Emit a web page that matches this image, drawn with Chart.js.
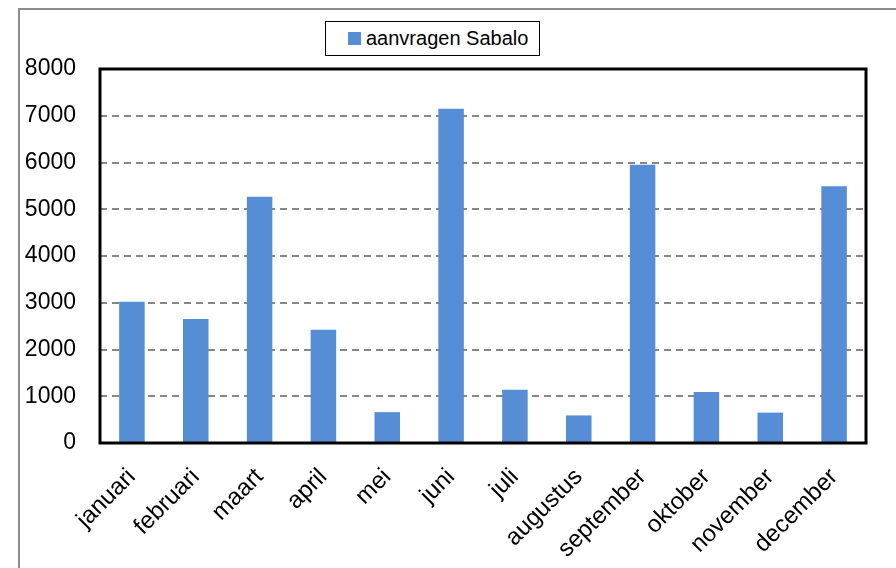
<!DOCTYPE html>
<html>
<head>
<meta charset="utf-8">
<script src="https://cdn.jsdelivr.net/npm/chart.js@4"></script>
<style>
  html, body { margin: 0; padding: 0; background: #fff; }
  #wrap { position: relative; width: 896px; height: 568px; overflow: hidden; }
  #frame { position: absolute; left: 18px; top: 8px; width: 900px; height: 600px;
           border-left: 2px solid #8c8c8c; border-top: 2px solid #8c8c8c; box-sizing: border-box; }
  #legend { position: absolute; left: 325px; top: 21px; width: 215px; height: 35px; box-sizing: border-box;
            border: 1.5px solid #000; background: #fff; font: 20px "Liberation Sans", sans-serif;
            display: flex; align-items: center; padding-left: 22px; color: #000; }
  #legend span.box { display: inline-block; width: 13px; height: 13px; margin-right: 5px; }
  canvas { position: absolute; left: 0; top: 0; }
</style>
</head>
<body>
<div id="wrap">
  <div id="frame"></div>
  <canvas id="chart" width="896" height="568"></canvas>
  <div id="legend"></div>
</div>
<script>
// --- datos ---
const maanden = ['januari', 'februari', 'maart', 'april', 'mei', 'juni',
                 'juli', 'augustus', 'september', 'oktober', 'november', 'december'];
const aanvragen = [3020, 2650, 5270, 2420, 660, 7150, 1140, 590, 5950, 1090, 650, 5490];
const serieNaam = 'aanvragen Sabalo';
const yTicks = [0, 1000, 2000, 3000, 4000, 5000, 6000, 7000, 8000];

const barColor = '#558ed5';

// caja negra alrededor del area del grafico
const plotBox = {
    id: 'plotBox',
    afterDraw(chart) {
        const { ctx, chartArea: a } = chart;
        ctx.save();
        ctx.strokeStyle = '#000';
        ctx.lineWidth = 3;
        ctx.strokeRect(a.left, a.top, a.right - a.left, a.bottom - a.top);
        ctx.restore();
    }
};

const ctx = document.getElementById('chart').getContext('2d');
const chart = new Chart(ctx, {
    type: 'bar',
    data: {
        labels: maanden,
        datasets: [{
            label: serieNaam,
            data: aanvragen,
            backgroundColor: barColor,
            borderWidth: 0,
            barPercentage: 0.4,
            categoryPercentage: 1.0
        }]
    },
    options: {
        responsive: false,
        animation: false,
        layout: { padding: { left: 0, right: 30, top: 69, bottom: 0 } },
        plugins: { legend: { display: false }, tooltip: { enabled: false } },
        scales: {
            x: {
                grid: { display: false, drawTicks: false },
                border: { display: false },
                ticks: {
                    color: '#000',
                    font: { family: 'Liberation Sans', size: 24 },
                    minRotation: 45, maxRotation: 45,
                    padding: 20,
                    autoSkip: false
                },
                afterFit(scale) { scale.height = 125; }
            },
            y: {
                min: 0, max: 8000,
                afterBuildTicks(scale) { scale.ticks = yTicks.map(v => ({ value: v })); },
                grid: {
                    color: (c) => (c.tick && (c.tick.value === 0 || c.tick.value === 8000)) ? 'rgba(0,0,0,0)' : '#868686',
                    lineWidth: 2,
                    drawTicks: false
                },
                border: { display: false, dash: [7, 5] },
                ticks: {
                    color: '#000',
                    font: { family: 'Liberation Sans', size: 23 },
                    padding: 24,
                    callback: (v) => String(v)
                },
                afterFit(scale) { scale.width = 100; }
            }
        }
    },
    plugins: [plotBox]
});

// leyenda en HTML
const legendEl = document.getElementById('legend');
chart.data.datasets.forEach(ds => {
    legendEl.innerHTML = '<span class="box" style="background:' + ds.backgroundColor + '"></span>' + ds.label;
});
</script>
</body>
</html>
